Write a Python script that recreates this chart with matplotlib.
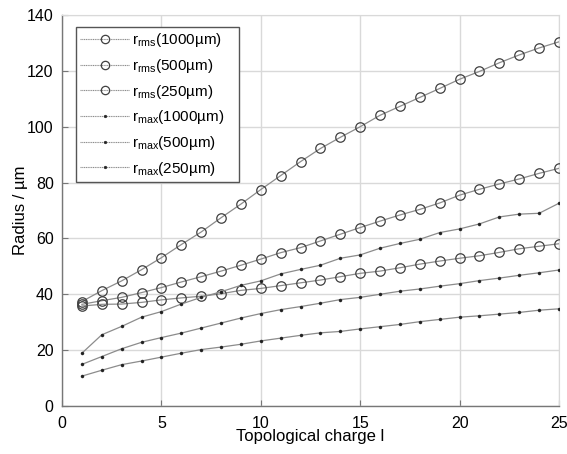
import matplotlib
matplotlib.use("Agg")
import matplotlib.pyplot as plt
from matplotlib.lines import Line2D

plt.rcParams['font.family'] = ['Liberation Sans', 'DejaVu Sans']
plt.rcParams['mathtext.fontset'] = 'custom'
plt.rcParams['mathtext.rm'] = 'Liberation Sans'
plt.rcParams['mathtext.it'] = 'Liberation Sans:italic'

charge = list(range(1, 26))
rms_1000 = [37.4, 41.3, 44.8, 48.8, 53.1, 57.8, 62.3, 67.4, 72.3, 77.5, 82.5, 87.5, 92.2, 96.2, 100.0,
            104.1, 107.3, 110.5, 113.7, 117.0, 119.8, 122.9, 125.7, 128.2, 130.4]
rms_500 = [36.4, 37.7, 38.9, 40.6, 42.4, 44.4, 46.3, 48.3, 50.4, 52.6, 54.9, 56.7, 59.1, 61.5, 63.9,
           66.2, 68.4, 70.4, 72.7, 75.5, 77.6, 79.5, 81.3, 83.3, 85.1]
rms_250 = [35.8, 36.4, 36.5, 37.1, 38.0, 38.7, 39.3, 40.2, 41.4, 42.1, 43.1, 44.1, 45.1, 46.3, 47.5,
           48.3, 49.5, 50.8, 51.9, 52.9, 53.8, 55.0, 56.3, 57.2, 58.1]
max_1000 = [18.9, 25.5, 28.5, 31.8, 33.8, 36.5, 38.9, 40.9, 43.2, 44.8, 47.3, 48.9, 50.4, 52.9, 54.1,
            56.5, 58.2, 59.7, 62.1, 63.4, 65.2, 67.7, 68.7, 69.0, 72.6]
max_500 = [14.9, 17.7, 20.5, 22.8, 24.5, 26.1, 27.9, 29.7, 31.5, 33.1, 34.5, 35.6, 36.8, 38.1, 38.9,
           40.0, 41.1, 41.9, 42.9, 43.8, 44.9, 45.8, 46.8, 47.7, 48.7]
max_250 = [10.7, 12.8, 14.8, 16.1, 17.5, 18.9, 20.2, 21.1, 22.1, 23.3, 24.3, 25.3, 26.2, 26.7, 27.6,
           28.4, 29.2, 30.2, 31.0, 31.8, 32.3, 32.9, 33.5, 34.3, 34.8]

labels = ['r$_{\\rm rms}$(1000µm)', 'r$_{\\rm rms}$(500µm)', 'r$_{\\rm rms}$(250µm)',
          'r$_{\\rm max}$(1000µm)', 'r$_{\\rm max}$(500µm)', 'r$_{\\rm max}$(250µm)']
xticks = [0, 5, 10, 15, 20, 25]
yticks = [0, 20, 40, 60, 80, 100, 120, 140]

fig = plt.figure(figsize=(5.67, 4.54), dpi=100)
ax = fig.add_axes([62/567, 48/454, 497/567, 391/454])

line_c = '#8c8c8c'
circ_c = '#404040'
dot_c = '#222222'
handles = []
for ys, lab in zip([rms_1000, rms_500, rms_250], labels[:3]):
    ax.plot(charge, ys, color=line_c, lw=0.9, marker='o', ms=6.8, mfc='none',
            mec=circ_c, mew=0.9, zorder=3)
    handles.append(Line2D([], [], color=line_c, lw=0.8, ls=(0, (1, 0.6)), marker='o', ms=6,
                          mfc='none', mec=circ_c, mew=0.9, label=lab))
for ys, lab in zip([max_1000, max_500, max_250], labels[3:]):
    ax.plot(charge, ys, color=line_c, lw=0.9, marker='o', ms=2.2, mfc=dot_c,
            mec=dot_c, mew=0.3, zorder=3)
    handles.append(Line2D([], [], color=line_c, lw=0.8, ls=(0, (1, 0.6)), marker='o', ms=2.0,
                          mfc=dot_c, mec=dot_c, mew=0.3, label=lab))

ax.set_xlim(0, 25)
ax.set_ylim(0, 140)
ax.set_xticks(xticks)
ax.set_yticks(yticks)
ax.grid(True, color='#d9d9d9', lw=1.0)
ax.set_axisbelow(True)
for s in ['top', 'right']:
    ax.spines[s].set_color('#d9d9d9')
for s in ['left', 'bottom']:
    ax.spines[s].set_color('#777777')
    ax.spines[s].set_linewidth(1.0)
ax.tick_params(direction='in', length=4, width=0.8, color='#777777', labelsize=11.5)
ax.tick_params(axis='x', pad=7)
ax.tick_params(axis='y', pad=6)
ax.set_xlabel('Topological charge l', fontsize=12, labelpad=-1)
ax.set_ylabel('Radius / µm', fontsize=12, labelpad=-1)

leg = ax.legend(handles=handles, loc='upper left', bbox_to_anchor=(0.0276, 0.0, 0.3286, 0.97),
                mode='expand', borderaxespad=0, fontsize=11,
                frameon=True, fancybox=False, edgecolor='#555555', framealpha=1,
                handlelength=3.2, labelspacing=0.5, borderpad=0.3, handletextpad=0.2)
leg.get_frame().set_linewidth(1.0)

fig.savefig('out.png', dpi=100)
